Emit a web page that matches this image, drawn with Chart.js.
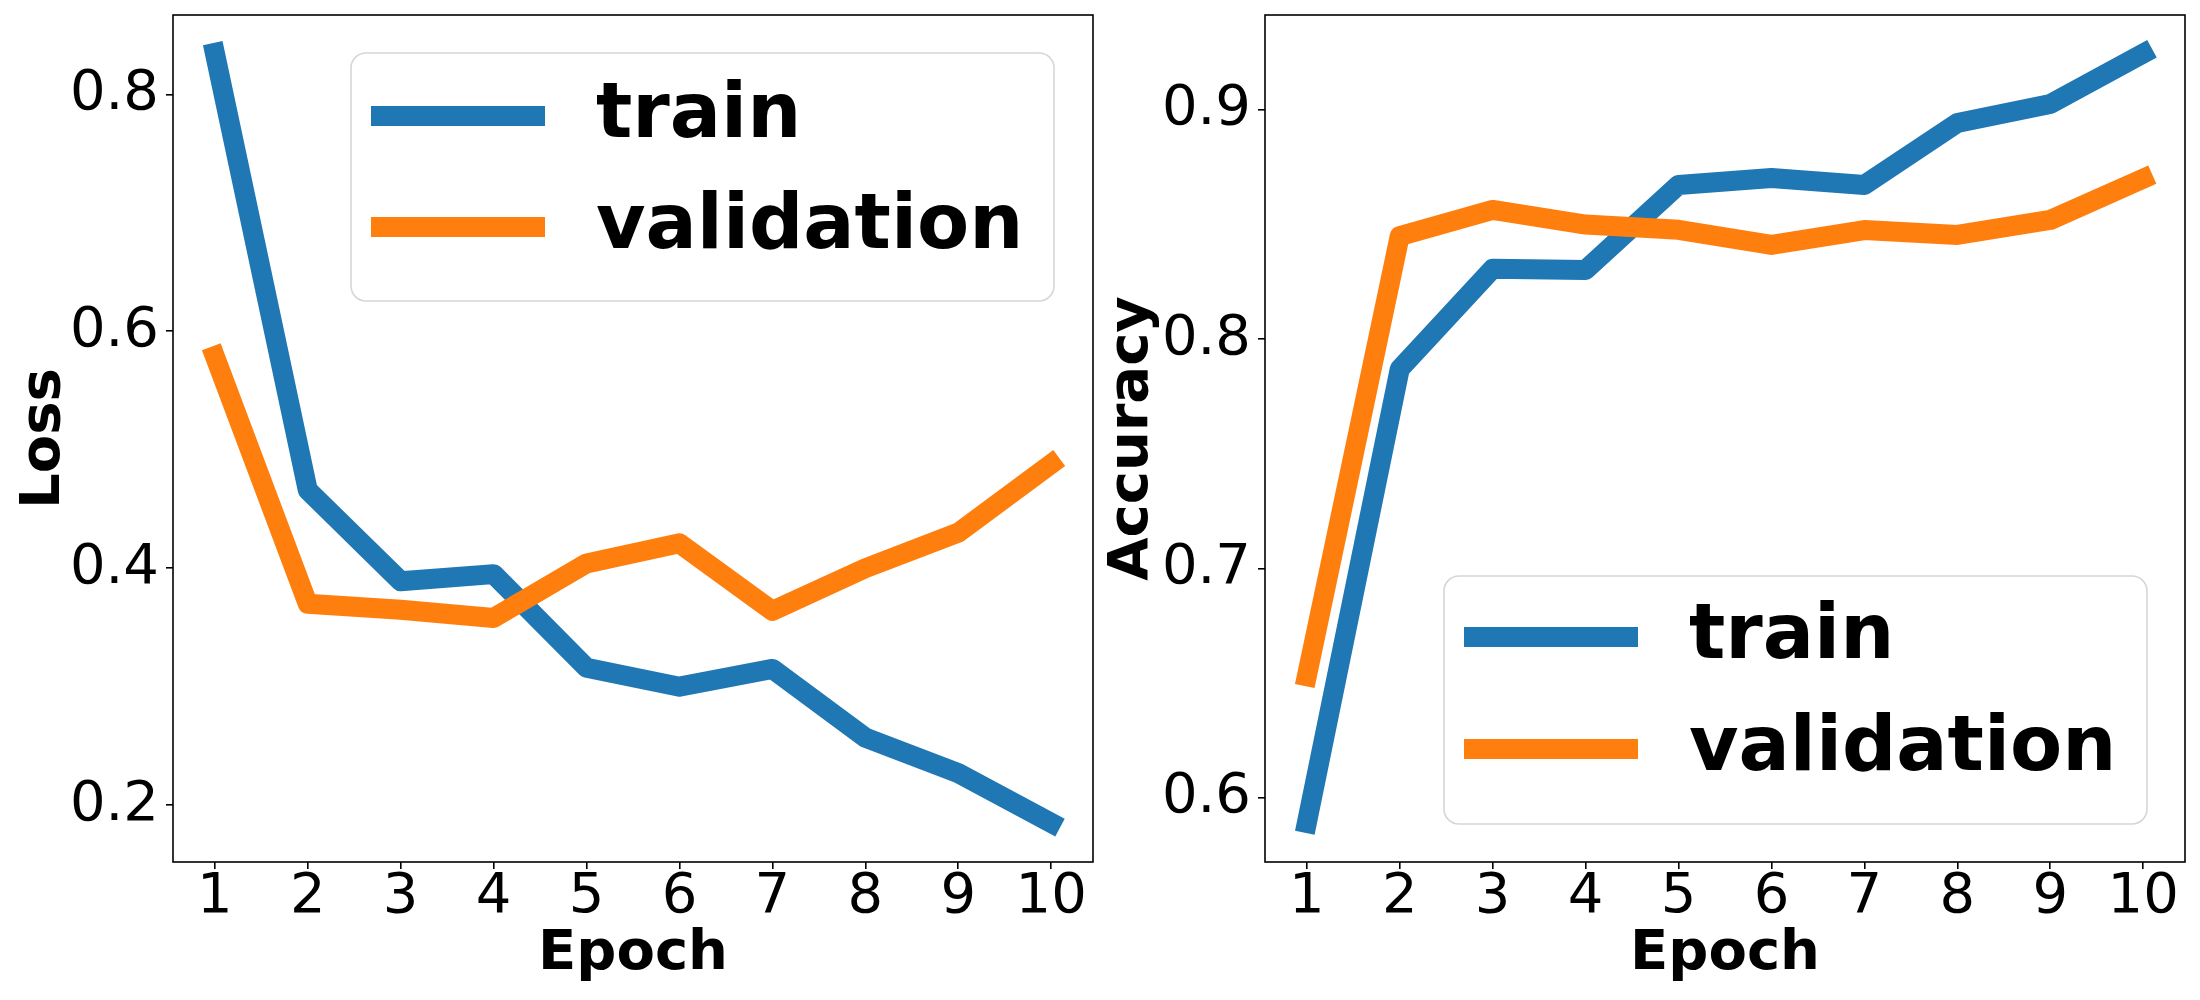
<!DOCTYPE html>
<html>
<head>
<meta charset="utf-8">
<script src="https://cdn.jsdelivr.net/npm/chart.js@4.4.0/dist/chart.umd.min.js"></script>
<style>
  html, body { margin: 0; padding: 0; background: #fff; }
  #wrap { position: relative; width: 2200px; height: 1000px; }
  .panel { position: absolute; top: 0; width: 1100px; height: 1000px; }
</style>
</head>
<body>
<div id="wrap">
  <div class="panel" style="left:0"><canvas id="loss" width="1100" height="1000"></canvas></div>
  <div class="panel" style="left:1100px"><canvas id="accuracy" width="1100" height="1000"></canvas></div>
</div>
<script>
const epochs = [1, 2, 3, 4, 5, 6, 7, 8, 9, 10];

const lossTrain = [0.835, 0.466, 0.389, 0.395, 0.316, 0.3, 0.315, 0.257, 0.227, 0.185];
const lossVal = [0.579, 0.37, 0.365, 0.358, 0.404, 0.421, 0.364, 0.4, 0.43, 0.488];

const accTrain = [0.589, 0.787, 0.8307, 0.8302, 0.8673, 0.8703, 0.8673, 0.8943, 0.9026, 0.9246];
const accVal = [0.653, 0.845, 0.8564, 0.85, 0.8477, 0.8411, 0.8476, 0.8455, 0.852, 0.87];

const lossTicks = [0.2, 0.4, 0.6, 0.8];
const accTicks = [0.6, 0.7, 0.8, 0.9];

const seriesNames = ["train", "validation"];
const blue = "#1f77b4";
const orange = "#ff7f0e";

const FONT = "DejaVu Sans";

// box round the plot area, like matplotlib spines
const spines = {
  id: "spines",
  afterDraw(chart) {
    const { ctx, chartArea: a } = chart;
    ctx.save();
    ctx.strokeStyle = "#000";
    ctx.lineWidth = 1.6;
    ctx.strokeRect(a.left, a.top, a.right - a.left, a.bottom - a.top);
    ctx.restore();
  },
};

// legend drawn inside the axes
const insideLegend = {
  id: "insideLegend",
  afterDraw(chart, args, opts) {
    const { ctx, chartArea: a } = chart;
    const w = 703, h = 248;
    const x = a.right - opts.right - w;
    const y = opts.place === "top" ? a.top + opts.top : a.bottom - opts.bottom - h;

    ctx.save();
    ctx.beginPath();
    ctx.roundRect(x, y, w, h, 15);
    ctx.fillStyle = "rgba(255,255,255,0.8)";
    ctx.fill();
    ctx.strokeStyle = "rgba(204,204,204,0.8)";
    ctx.lineWidth = 1.6;
    ctx.stroke();

    ctx.font = "bold 76px '" + FONT + "'";
    ctx.textBaseline = "middle";
    ctx.textAlign = "left";
    chart.data.datasets.forEach((ds, i) => {
      const ly = y + opts.rows[i];
      ctx.strokeStyle = ds.borderColor;
      ctx.lineWidth = 20;
      ctx.lineCap = "butt";
      ctx.beginPath();
      ctx.moveTo(x + 20, ly);
      ctx.lineTo(x + 194, ly);
      ctx.stroke();
      ctx.fillStyle = "#000";
      ctx.fillText(ds.label, x + 245, ly + 1);
    });
    ctx.restore();
  },
};

function toPoints(values) {
  return values.map((v, i) => ({ x: epochs[i], y: v }));
}

function lineSet(label, values, color, order) {
  return {
    label: label,
    data: toPoints(values),
    borderColor: color,
    backgroundColor: color,
    borderWidth: 20,
    borderCapStyle: "square",
    borderJoinStyle: "round",
    pointRadius: 0,
    tension: 0,
    fill: false,
    order: order,
  };
}

function config(train, val, yTicks, yMin, yMax, yTitle, yWidth, yTitlePad, padRight, legend) {
  return {
    type: "line",
    data: {
      datasets: [
        lineSet(seriesNames[0], train, blue, 2),
        lineSet(seriesNames[1], val, orange, 1),
      ],
    },
    options: {
      responsive: false,
      devicePixelRatio: 1,
      animation: false,
      layout: { padding: { left: 0, right: padRight, top: 15, bottom: 0 } },
      plugins: {
        legend: { display: false },
        tooltip: { enabled: false },
        insideLegend: legend,
      },
      scales: {
        x: {
          type: "linear",
          min: 0.55,
          max: 10.45,
          afterBuildTicks: (s) => { s.ticks = epochs.map((v) => ({ value: v })); },
          afterFit: (s) => {
            s.height = 138;
            s.paddingLeft = 0;
            s.paddingRight = 0;
          },
          grid: { drawOnChartArea: false, drawTicks: true, tickLength: 7, color: "#000", lineWidth: 1.6 },
          border: { display: false },
          ticks: {
            autoSkip: false,
            maxRotation: 0,
            padding: 0,
            color: "#000",
            font: { family: FONT, size: 56, lineHeight: 1 },
            callback: (v) => String(v),
          },
          title: {
            display: true,
            text: "Epoch",
            color: "#000",
            font: { family: FONT, size: 56, weight: "bold", lineHeight: 1 },
            padding: { top: 0, bottom: 18 },
          },
        },
        y: {
          type: "linear",
          min: yMin,
          max: yMax,
          afterBuildTicks: (s) => { s.ticks = yTicks.map((v) => ({ value: v })); },
          afterFit: (s) => {
            s.width = yWidth;
            s.paddingTop = 0;
            s.paddingBottom = 0;
          },
          grid: { drawOnChartArea: false, drawTicks: true, tickLength: 7, color: "#000", lineWidth: 1.6 },
          border: { display: false },
          ticks: {
            autoSkip: false,
            padding: 7,
            color: "#000",
            font: { family: FONT, size: 56, lineHeight: 1 },
            callback: (v) => v.toFixed(1),
          },
          title: {
            display: true,
            text: yTitle,
            color: "#000",
            font: { family: FONT, size: 56, weight: "bold", lineHeight: 1 },
            padding: { top: yTitlePad, bottom: 0 },
          },
        },
      },
    },
    plugins: [spines, insideLegend],
  };
}

const config_loss = config(
  lossTrain, lossVal, lossTicks, 0.152, 0.867, "Loss", 173, 16, 7,
  { place: "top", top: 38, right: 39, rows: [63, 174] }
);
const loss = new Chart(document.getElementById("loss"), config_loss);

const config_accuracy = config(
  accTrain, accVal, accTicks, 0.572, 0.9414, "Accuracy", 165, 4, 15,
  { place: "bottom", bottom: 38, right: 38, rows: [61, 173] }
);
const accuracy = new Chart(document.getElementById("accuracy"), config_accuracy);
</script>
</body>
</html>
